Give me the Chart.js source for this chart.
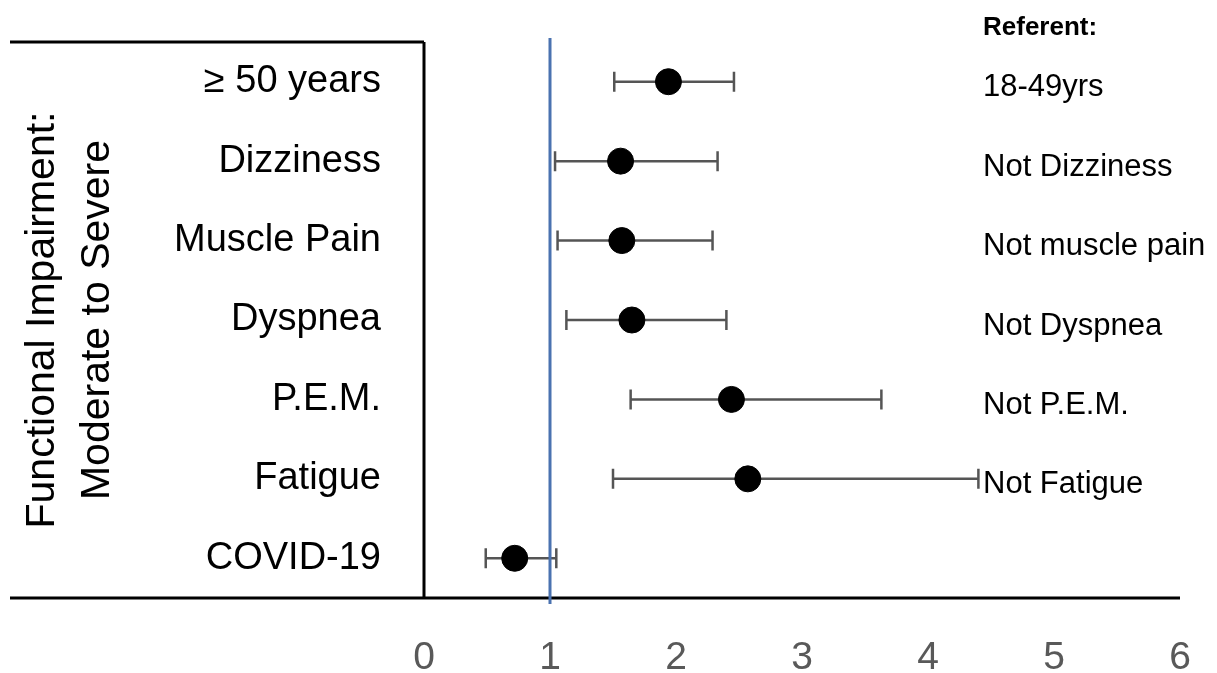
<!DOCTYPE html>
<html>
<head>
<meta charset="utf-8">
<script src="https://cdn.jsdelivr.net/npm/chart.js"></script>
<style>
  html, body { margin: 0; padding: 0; background: #fff; }
  #wrap { width: 1217px; height: 673px; }
</style>
</head>
<body>
<div id="wrap"><canvas id="forest"></canvas></div>
<script>
// rows, top to bottom
var categories = ['≥ 50 years', 'Dizziness', 'Muscle Pain', 'Dyspnea', 'P.E.M.', 'Fatigue', 'COVID-19'];
var oddsRatio  = [1.94, 1.56, 1.57, 1.65, 2.44, 2.57, 0.72];
var ciLow      = [1.51, 1.04, 1.06, 1.13, 1.64, 1.50, 0.49];
var ciHigh     = [2.46, 2.33, 2.29, 2.40, 3.63, 4.40, 1.05];
var referents  = ['18-49yrs', 'Not Dizziness', 'Not muscle pain', 'Not Dyspnea', 'Not P.E.M.', 'Not Fatigue', ''];
var xTicks     = [0, 1, 2, 3, 4, 5, 6];
var refValue   = 1;

var FONT = "'Liberation Sans', Arial, sans-serif";

var points = categories.map(function(c, i){ return {x: oddsRatio[i], y: c}; });

var forestPlugin = {
  id: 'forest',
  beforeDatasetsDraw: function(chart) {
    var ctx = chart.ctx, xs = chart.scales.x, ys = chart.scales.y, a = chart.chartArea;
    ctx.save();
    // frame lines
    ctx.strokeStyle = '#000';
    ctx.lineWidth = 3;
    ctx.beginPath();
    ctx.moveTo(10, a.top); ctx.lineTo(a.left, a.top);
    ctx.moveTo(a.left, a.top); ctx.lineTo(a.left, a.bottom);
    ctx.moveTo(10, a.bottom); ctx.lineTo(a.right, a.bottom);
    ctx.stroke();
    // confidence intervals
    ctx.strokeStyle = '#555555';
    ctx.lineWidth = 2.5;
    categories.forEach(function(c, i){
      var y = ys.getPixelForValue(i);
      var x1 = xs.getPixelForValue(ciLow[i]), x2 = xs.getPixelForValue(ciHigh[i]);
      ctx.beginPath();
      ctx.moveTo(x1, y); ctx.lineTo(x2, y);
      ctx.moveTo(x1, y - 10); ctx.lineTo(x1, y + 10);
      ctx.moveTo(x2, y - 10); ctx.lineTo(x2, y + 10);
      ctx.stroke();
    });
    // reference line
    var rx = xs.getPixelForValue(refValue);
    ctx.strokeStyle = '#4a72b0';
    ctx.lineWidth = 3;
    ctx.beginPath();
    ctx.moveTo(rx, a.top - 4); ctx.lineTo(rx, a.bottom + 6);
    ctx.stroke();
    ctx.restore();
  },
  afterDraw: function(chart) {
    var ctx = chart.ctx, ys = chart.scales.y;
    ctx.save();
    ctx.fillStyle = '#000';
    ctx.textAlign = 'left';
    ctx.textBaseline = 'middle';
    ctx.font = 'bold 26px ' + FONT;
    ctx.fillText('Referent:', 983, 28);
    ctx.font = '31px ' + FONT;
    referents.forEach(function(r, i){
      if (r) ctx.fillText(r, 983, ys.getPixelForValue(i) + 6);
    });
    ctx.restore();
  }
};

new Chart(document.getElementById('forest'), {
  type: 'scatter',
  data: {
    datasets: [{
      data: points,
      backgroundColor: '#000',
      borderColor: '#000',
      pointRadius: 13,
      pointHoverRadius: 13
    }]
  },
  options: {
    responsive: true,
    maintainAspectRatio: false,
    animation: false,
    events: [],
    layout: { padding: { top: 42, right: 37, left: 0, bottom: 0 } },
    plugins: { legend: { display: false }, tooltip: { enabled: false } },
    scales: {
      x: {
        type: 'linear',
        min: 0, max: 6,
        afterBuildTicks: function(s){ s.ticks = xTicks.map(function(v){ return {value: v}; }); },
        afterFit: function(s){ s.height = 75; s.paddingLeft = 0; s.paddingRight = 0; },
        grid: { display: false },
        border: { display: false },
        ticks: { color: '#595959', font: { family: FONT, size: 39 }, padding: 29 }
      },
      y: {
        type: 'category',
        labels: categories,
        offset: true,
        afterFit: function(s){ s.width = 424; s.paddingTop = 0; s.paddingBottom = 0; },
        grid: { display: false },
        border: { display: false },
        ticks: { color: '#000', font: { family: FONT, size: 38 }, padding: 35 },
        title: {
          display: true,
          text: ['Functional Impairment:', 'Moderate to Severe'],
          color: '#000',
          font: { family: FONT, size: 41, lineHeight: 1.35 },
          padding: { top: 15, bottom: 0 }
        }
      }
    }
  },
  plugins: [forestPlugin]
});
</script>
</body>
</html>
